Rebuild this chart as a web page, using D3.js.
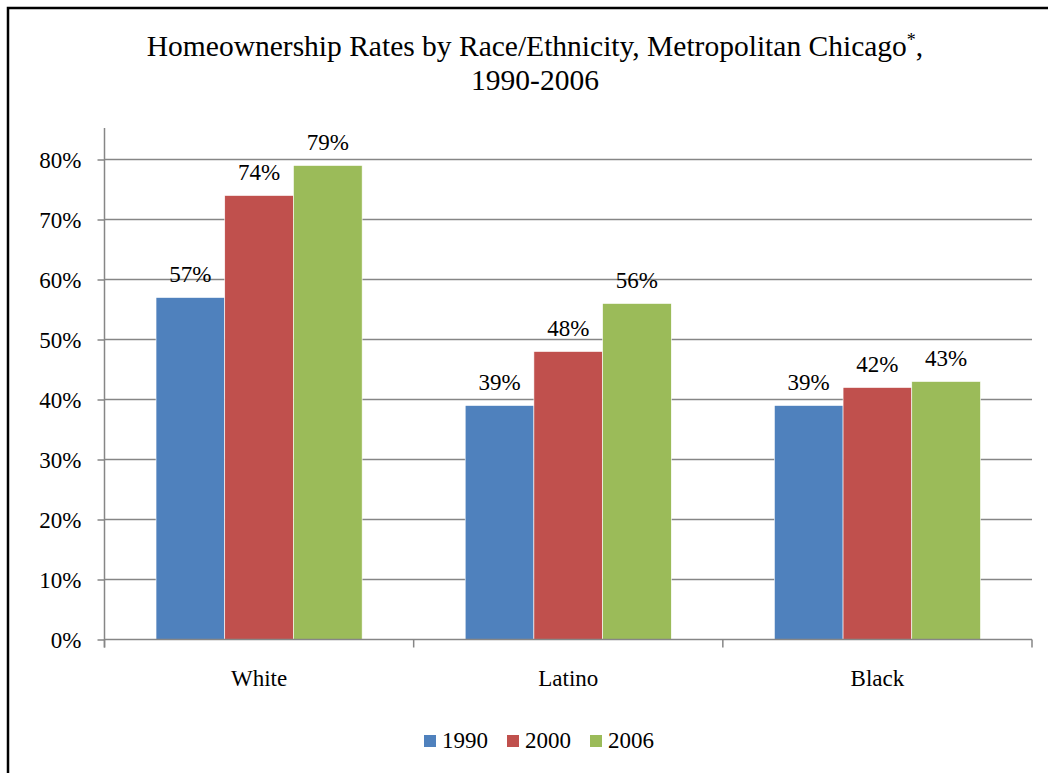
<!DOCTYPE html>
<html>
<head>
<meta charset="utf-8">
<script src="https://cdn.jsdelivr.net/npm/d3@7"></script>
<style>
  body { margin: 0; background: #fff; }
  svg text { font-family: "Liberation Serif", "Times New Roman", serif; fill: #000; }
</style>
</head>
<body>
<div id="chart"></div>
<script>
// chart data
const categories = ["White", "Latino", "Black"];
const years = ["1990", "2000", "2006"];
const rates1990 = [57, 39, 39];
const rates2000 = [74, 48, 42];
const rates2006 = [79, 56, 43];
const yTicks = [0, 10, 20, 30, 40, 50, 60, 70, 80];
const colors = ["#4F81BD", "#C0504D", "#9BBB59"];

function draw() {
  const width = 1048, height = 773;
  const series = [rates1990, rates2000, rates2006];

  const svg = d3.select("#chart").append("svg")
    .attr("width", width)
    .attr("height", height);

  // outer frame (runs off the right and bottom edges)
  svg.append("rect")
    .attr("x", 8).attr("y", 8)
    .attr("width", 1060).attr("height", 800)
    .attr("fill", "none")
    .attr("stroke", "#000")
    .attr("stroke-width", 2.5);

  const title = svg.append("text")
    .attr("text-anchor", "middle")
    .attr("font-size", "29.5px");
  title.append("tspan").attr("x", 535).attr("y", 56)
    .text("Homeownership Rates by Race/Ethnicity, Metropolitan Chicago");
  title.append("tspan").attr("dy", "-10").attr("font-size", "18px").text("*");
  title.append("tspan").attr("dy", "10").text(",");
  title.append("tspan").attr("x", 535).attr("y", 90).text("1990-2006");

  const left = 104.5, right = 1032, bottom = 639.5;
  const x = d3.scaleBand()
    .domain(categories)
    .range([left, right])
    .paddingInner(0).paddingOuter(0);
  const xInner = d3.scaleBand()
    .domain(years)
    .range([0, x.bandwidth()])
    .paddingOuter(0.75)
    .paddingInner(0);
  const y = d3.scaleLinear()
    .domain([0, 80])
    .range([bottom, 159.5]);

  // gridlines
  svg.append("g")
    .selectAll("line")
    .data(yTicks.slice(1))
    .enter().append("line")
    .attr("x1", left).attr("x2", right)
    .attr("y1", (d) => y(d)).attr("y2", (d) => y(d))
    .attr("stroke", "#868686")
    .attr("stroke-width", 1.5);

  // bars
  const groups = svg.selectAll(".grp")
    .data(categories)
    .enter().append("g")
    .attr("transform", (d) => "translate(" + x(d) + ",0)");
  groups.selectAll("rect")
    .data((d, i) => years.map((yr, j) => ({ yr: yr, v: series[j][i], c: colors[j] })))
    .enter().append("rect")
    .attr("x", (d) => xInner(d.yr))
    .attr("width", xInner.bandwidth())
    .attr("y", (d) => y(d.v))
    .attr("height", (d) => bottom - y(d.v))
    .attr("fill", (d) => d.c)
    .attr("stroke", "#fff")
    .attr("stroke-width", 0.6);
  groups.selectAll("text")
    .data((d, i) => years.map((yr, j) => ({ yr: yr, v: series[j][i] })))
    .enter().append("text")
    .attr("x", (d) => xInner(d.yr) + xInner.bandwidth() / 2)
    .attr("y", (d) => y(d.v) - 16)
    .attr("text-anchor", "middle")
    .attr("font-size", "23px")
    .text((d) => d.v + "%");

  // y axis
  const yAxis = svg.append("g")
    .attr("transform", "translate(" + left + ",0)")
    .call(d3.axisLeft(y).tickValues(yTicks).tickSize(7).tickPadding(16)
      .tickFormat((d) => d + "%"));
  yAxis.select(".domain").remove();
  yAxis.append("line")
    .attr("x1", 0).attr("x2", 0)
    .attr("y1", 128).attr("y2", bottom + 8)
    .attr("stroke", "#868686").attr("stroke-width", 1.5);
  yAxis.selectAll(".tick line").attr("stroke", "#868686").attr("stroke-width", 1.5);
  yAxis.selectAll(".tick text")
    .attr("font-size", "23px")
    .attr("dy", "0.35em");

  // x axis
  const xAxis = svg.append("g")
    .attr("transform", "translate(0," + bottom + ")")
    .call(d3.axisBottom(x).tickSize(0).tickPadding(0));
  xAxis.select(".domain")
    .attr("stroke", "#868686").attr("stroke-width", 1.5)
    .attr("d", "M" + left + ",0H" + right);
  xAxis.selectAll(".tick text")
    .attr("font-size", "23px")
    .attr("dy", null)
    .attr("y", 46);
  xAxis.selectAll(".sep")
    .data(categories.concat(["end"]))
    .enter().append("line")
    .attr("x1", (d, i) => i < categories.length ? x(d) : right)
    .attr("x2", (d, i) => i < categories.length ? x(d) : right)
    .attr("y1", 0).attr("y2", 8)
    .attr("stroke", "#868686").attr("stroke-width", 1.5);

  // legend
  const legendX = [424, 507, 590];
  const lg = svg.selectAll(".lg")
    .data(years)
    .enter().append("g")
    .attr("transform", (d, i) => "translate(" + legendX[i] + ",735)");
  lg.append("rect")
    .attr("width", 12).attr("height", 12)
    .attr("fill", (d, i) => colors[i]);
  lg.append("text")
    .attr("x", 18).attr("y", 13)
    .attr("font-size", "23px")
    .text((d) => d);
}

draw();
</script>
</body>
</html>
